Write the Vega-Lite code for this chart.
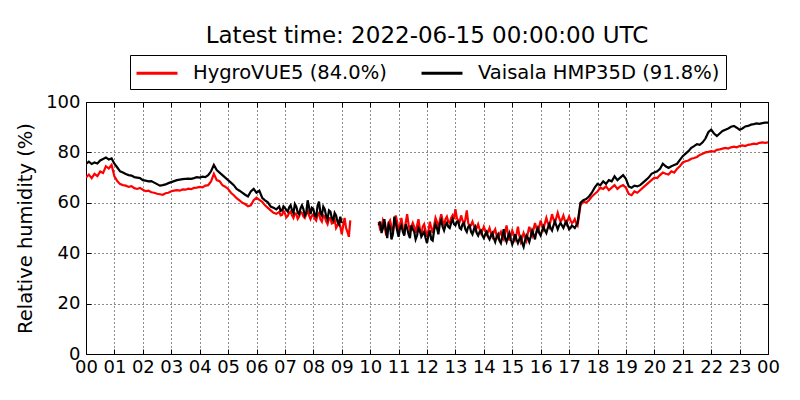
{
  "$schema": "https://vega.github.io/schema/vega-lite/v6.json",
  "width": 682,
  "height": 252,
  "autosize": {"type": "none"},
  "padding": {"left": 86, "top": 102, "right": 32, "bottom": 46},
  "title": {
    "text": "Latest time: 2022-06-15 00:00:00 UTC",
    "font": "DejaVu Sans",
    "fontSize": 23,
    "fontWeight": "normal",
    "color": "black",
    "anchor": "middle",
    "frame": "group",
    "offset": 7
  },
  "data": {
    "values": [
      {"h": 0.0, "r": 70.0, "b": 75.5, "seg": 1},
      {"h": 0.1, "r": 71.2, "b": 76.3, "seg": 1},
      {"h": 0.2, "r": 69.8, "b": 75.4, "seg": 1},
      {"h": 0.3, "r": 71.5, "b": 76.0, "seg": 1},
      {"h": 0.4, "r": 70.6, "b": 75.6, "seg": 1},
      {"h": 0.5, "r": 72.4, "b": 76.8, "seg": 1},
      {"h": 0.6, "r": 71.8, "b": 77.4, "seg": 1},
      {"h": 0.7, "r": 74.5, "b": 78.0, "seg": 1},
      {"h": 0.8, "r": 73.6, "b": 77.2, "seg": 1},
      {"h": 0.9, "r": 75.0, "b": 77.6, "seg": 1},
      {"h": 1.0, "r": 70.5, "b": 75.5, "seg": 1},
      {"h": 1.1, "r": 68.6, "b": 74.0, "seg": 1},
      {"h": 1.2, "r": 67.4, "b": 72.5, "seg": 1},
      {"h": 1.3, "r": 67.0, "b": 72.0, "seg": 1},
      {"h": 1.4, "r": 66.8, "b": 71.4, "seg": 1},
      {"h": 1.5, "r": 66.3, "b": 71.0, "seg": 1},
      {"h": 1.6, "r": 66.6, "b": 70.8, "seg": 1},
      {"h": 1.7, "r": 65.8, "b": 70.2, "seg": 1},
      {"h": 1.8, "r": 65.5, "b": 70.0, "seg": 1},
      {"h": 1.9, "r": 65.9, "b": 69.8, "seg": 1},
      {"h": 2.0, "r": 65.2, "b": 69.0, "seg": 1},
      {"h": 2.1, "r": 64.6, "b": 68.8, "seg": 1},
      {"h": 2.2, "r": 64.8, "b": 68.5, "seg": 1},
      {"h": 2.3, "r": 64.2, "b": 68.6, "seg": 1},
      {"h": 2.4, "r": 64.0, "b": 68.0, "seg": 1},
      {"h": 2.5, "r": 63.6, "b": 67.4, "seg": 1},
      {"h": 2.6, "r": 63.4, "b": 66.8, "seg": 1},
      {"h": 2.7, "r": 63.2, "b": 67.0, "seg": 1},
      {"h": 2.8, "r": 63.8, "b": 67.3, "seg": 1},
      {"h": 2.9, "r": 64.0, "b": 67.8, "seg": 1},
      {"h": 3.0, "r": 64.6, "b": 68.2, "seg": 1},
      {"h": 3.1, "r": 64.8, "b": 68.6, "seg": 1},
      {"h": 3.2, "r": 65.0, "b": 69.0, "seg": 1},
      {"h": 3.3, "r": 64.8, "b": 69.2, "seg": 1},
      {"h": 3.4, "r": 65.3, "b": 69.4, "seg": 1},
      {"h": 3.5, "r": 65.2, "b": 69.5, "seg": 1},
      {"h": 3.6, "r": 65.6, "b": 69.6, "seg": 1},
      {"h": 3.7, "r": 65.4, "b": 69.5, "seg": 1},
      {"h": 3.8, "r": 65.9, "b": 69.8, "seg": 1},
      {"h": 3.9, "r": 66.0, "b": 70.2, "seg": 1},
      {"h": 4.0, "r": 66.3, "b": 70.0, "seg": 1},
      {"h": 4.1, "r": 66.1, "b": 70.4, "seg": 1},
      {"h": 4.2, "r": 66.8, "b": 70.2, "seg": 1},
      {"h": 4.3, "r": 67.0, "b": 71.0, "seg": 1},
      {"h": 4.4, "r": 68.5, "b": 72.5, "seg": 1},
      {"h": 4.5, "r": 71.5, "b": 75.0, "seg": 1},
      {"h": 4.6, "r": 69.0, "b": 73.0, "seg": 1},
      {"h": 4.7, "r": 68.6, "b": 72.0, "seg": 1},
      {"h": 4.8, "r": 67.0, "b": 71.0, "seg": 1},
      {"h": 4.9, "r": 66.4, "b": 70.0, "seg": 1},
      {"h": 5.0, "r": 65.5, "b": 69.0, "seg": 1},
      {"h": 5.1, "r": 64.0, "b": 68.0, "seg": 1},
      {"h": 5.2, "r": 63.0, "b": 67.0, "seg": 1},
      {"h": 5.3, "r": 61.8, "b": 65.5, "seg": 1},
      {"h": 5.4, "r": 61.0, "b": 64.8, "seg": 1},
      {"h": 5.5, "r": 60.0, "b": 64.0, "seg": 1},
      {"h": 5.6, "r": 59.5, "b": 63.2, "seg": 1},
      {"h": 5.7, "r": 58.6, "b": 62.5, "seg": 1},
      {"h": 5.8, "r": 59.0, "b": 64.5, "seg": 1},
      {"h": 5.9, "r": 61.0, "b": 65.5, "seg": 1},
      {"h": 6.0, "r": 62.0, "b": 64.0, "seg": 1},
      {"h": 6.1, "r": 61.2, "b": 64.8, "seg": 1},
      {"h": 6.2, "r": 60.4, "b": 62.0, "seg": 1},
      {"h": 6.3, "r": 59.0, "b": 61.0, "seg": 1},
      {"h": 6.4, "r": 58.0, "b": 60.2, "seg": 1},
      {"h": 6.5, "r": 57.0, "b": 58.5, "seg": 1},
      {"h": 6.6, "r": 56.0, "b": 58.0, "seg": 1},
      {"h": 6.7, "r": 55.6, "b": 57.4, "seg": 1},
      {"h": 6.8, "r": 56.4, "b": 58.5, "seg": 1},
      {"h": 6.85, "r": 55.0, "b": 56.8, "seg": 1},
      {"h": 6.9, "r": 55.2, "b": 57.0, "seg": 1},
      {"h": 6.95, "r": 56.8, "b": 58.6, "seg": 1},
      {"h": 7.0, "r": 55.8, "b": 58.0, "seg": 1},
      {"h": 7.05, "r": 54.2, "b": 57.2, "seg": 1},
      {"h": 7.1, "r": 54.8, "b": 56.5, "seg": 1},
      {"h": 7.15, "r": 56.0, "b": 58.2, "seg": 1},
      {"h": 7.2, "r": 56.5, "b": 59.0, "seg": 1},
      {"h": 7.25, "r": 55.0, "b": 57.0, "seg": 1},
      {"h": 7.3, "r": 54.0, "b": 56.0, "seg": 1},
      {"h": 7.35, "r": 55.8, "b": 59.5, "seg": 1},
      {"h": 7.4, "r": 55.6, "b": 58.5, "seg": 1},
      {"h": 7.45, "r": 53.6, "b": 56.2, "seg": 1},
      {"h": 7.5, "r": 54.5, "b": 55.5, "seg": 1},
      {"h": 7.55, "r": 56.4, "b": 57.8, "seg": 1},
      {"h": 7.6, "r": 56.0, "b": 59.0, "seg": 1},
      {"h": 7.65, "r": 54.6, "b": 57.5, "seg": 1},
      {"h": 7.7, "r": 54.0, "b": 55.0, "seg": 1},
      {"h": 7.75, "r": 55.4, "b": 56.0, "seg": 1},
      {"h": 7.8, "r": 57.0, "b": 61.0, "seg": 1},
      {"h": 7.85, "r": 55.0, "b": 58.2, "seg": 1},
      {"h": 7.9, "r": 53.5, "b": 55.5, "seg": 1},
      {"h": 7.95, "r": 54.8, "b": 58.0, "seg": 1},
      {"h": 8.0, "r": 55.5, "b": 57.5, "seg": 1},
      {"h": 8.05, "r": 53.8, "b": 55.0, "seg": 1},
      {"h": 8.1, "r": 53.0, "b": 54.5, "seg": 1},
      {"h": 8.15, "r": 55.2, "b": 58.8, "seg": 1},
      {"h": 8.2, "r": 56.0, "b": 60.5, "seg": 1},
      {"h": 8.25, "r": 53.4, "b": 56.0, "seg": 1},
      {"h": 8.3, "r": 52.5, "b": 55.0, "seg": 1},
      {"h": 8.35, "r": 55.0, "b": 58.5, "seg": 1},
      {"h": 8.4, "r": 54.5, "b": 57.5, "seg": 1},
      {"h": 8.45, "r": 52.6, "b": 54.8, "seg": 1},
      {"h": 8.5, "r": 51.5, "b": 53.5, "seg": 1},
      {"h": 8.55, "r": 53.8, "b": 57.0, "seg": 1},
      {"h": 8.6, "r": 54.0, "b": 56.5, "seg": 1},
      {"h": 8.65, "r": 51.8, "b": 54.0, "seg": 1},
      {"h": 8.7, "r": 52.0, "b": 53.0, "seg": 1},
      {"h": 8.75, "r": 53.5, "b": 56.0, "seg": 1},
      {"h": 8.8, "r": 50.0, "b": 55.0, "seg": 1},
      {"h": 8.85, "r": 51.0, "b": 52.5, "seg": 1},
      {"h": 8.9, "r": 52.5, "b": 51.5, "seg": 1},
      {"h": 8.95, "r": 50.5, "b": 54.5, "seg": 1},
      {"h": 9.0, "r": 47.5, "b": 52.0, "seg": 1},
      {"h": 9.05, "r": 51.0, "b": null, "seg": 1},
      {"h": 9.1, "r": 54.0, "b": null, "seg": 1},
      {"h": 9.15, "r": 50.0, "b": null, "seg": 1},
      {"h": 9.2, "r": 48.5, "b": null, "seg": 1},
      {"h": 9.25, "r": 46.5, "b": null, "seg": 1},
      {"h": 9.3, "r": 53.0, "b": null, "seg": 1},
      {"h": 10.3, "r": 52.5, "b": 51.0, "seg": 2},
      {"h": 10.35, "r": 49.5, "b": 52.5, "seg": 2},
      {"h": 10.4, "r": 50.0, "b": 48.0, "seg": 2},
      {"h": 10.45, "r": 53.0, "b": 50.0, "seg": 2},
      {"h": 10.5, "r": 51.5, "b": 53.5, "seg": 2},
      {"h": 10.55, "r": 48.0, "b": 49.5, "seg": 2},
      {"h": 10.6, "r": 49.0, "b": 46.0, "seg": 2},
      {"h": 10.65, "r": 52.0, "b": 51.5, "seg": 2},
      {"h": 10.7, "r": 53.0, "b": 50.5, "seg": 2},
      {"h": 10.75, "r": 50.5, "b": 45.5, "seg": 2},
      {"h": 10.8, "r": 48.5, "b": 47.5, "seg": 2},
      {"h": 10.85, "r": 51.5, "b": 54.5, "seg": 2},
      {"h": 10.9, "r": 55.0, "b": 52.0, "seg": 2},
      {"h": 10.95, "r": 52.5, "b": 49.0, "seg": 2},
      {"h": 11.0, "r": 49.5, "b": 46.5, "seg": 2},
      {"h": 11.05, "r": 51.0, "b": 50.0, "seg": 2},
      {"h": 11.1, "r": 54.0, "b": 51.0, "seg": 2},
      {"h": 11.15, "r": 50.0, "b": 48.5, "seg": 2},
      {"h": 11.2, "r": 47.5, "b": 47.0, "seg": 2},
      {"h": 11.25, "r": 52.0, "b": 51.5, "seg": 2},
      {"h": 11.3, "r": 55.5, "b": 50.0, "seg": 2},
      {"h": 11.35, "r": 51.5, "b": 47.5, "seg": 2},
      {"h": 11.4, "r": 49.0, "b": 46.0, "seg": 2},
      {"h": 11.45, "r": 50.5, "b": 51.0, "seg": 2},
      {"h": 11.5, "r": 52.0, "b": 49.5, "seg": 2},
      {"h": 11.55, "r": 50.5, "b": 48.5, "seg": 2},
      {"h": 11.6, "r": 48.0, "b": 45.5, "seg": 2},
      {"h": 11.65, "r": 51.0, "b": 47.0, "seg": 2},
      {"h": 11.7, "r": 53.5, "b": 50.0, "seg": 2},
      {"h": 11.75, "r": 49.5, "b": 49.0, "seg": 2},
      {"h": 11.8, "r": 47.0, "b": 46.5, "seg": 2},
      {"h": 11.85, "r": 50.5, "b": 47.5, "seg": 2},
      {"h": 11.9, "r": 51.5, "b": 48.5, "seg": 2},
      {"h": 11.95, "r": 49.0, "b": 46.0, "seg": 2},
      {"h": 12.0, "r": 46.5, "b": 44.0, "seg": 2},
      {"h": 12.05, "r": 48.5, "b": 47.0, "seg": 2},
      {"h": 12.1, "r": 52.5, "b": 49.0, "seg": 2},
      {"h": 12.15, "r": 50.0, "b": 45.5, "seg": 2},
      {"h": 12.2, "r": 48.0, "b": 45.0, "seg": 2},
      {"h": 12.25, "r": 51.0, "b": 49.0, "seg": 2},
      {"h": 12.3, "r": 54.0, "b": 51.5, "seg": 2},
      {"h": 12.35, "r": 52.5, "b": 50.0, "seg": 2},
      {"h": 12.4, "r": 50.0, "b": 47.5, "seg": 2},
      {"h": 12.45, "r": 53.0, "b": 51.5, "seg": 2},
      {"h": 12.5, "r": 55.5, "b": 53.0, "seg": 2},
      {"h": 12.55, "r": 53.0, "b": 50.5, "seg": 2},
      {"h": 12.6, "r": 51.0, "b": 49.0, "seg": 2},
      {"h": 12.65, "r": 53.5, "b": 51.0, "seg": 2},
      {"h": 12.7, "r": 54.5, "b": 52.0, "seg": 2},
      {"h": 12.75, "r": 52.5, "b": 50.5, "seg": 2},
      {"h": 12.8, "r": 52.0, "b": 50.0, "seg": 2},
      {"h": 12.85, "r": 54.0, "b": 52.0, "seg": 2},
      {"h": 12.9, "r": 55.0, "b": 53.5, "seg": 2},
      {"h": 12.95, "r": 53.5, "b": 51.5, "seg": 2},
      {"h": 13.0, "r": 57.5, "b": 51.0, "seg": 2},
      {"h": 13.05, "r": 54.0, "b": 52.5, "seg": 2},
      {"h": 13.1, "r": 53.0, "b": 52.5, "seg": 2},
      {"h": 13.15, "r": 52.5, "b": 50.0, "seg": 2},
      {"h": 13.2, "r": 55.0, "b": 49.5, "seg": 2},
      {"h": 13.25, "r": 53.0, "b": 51.5, "seg": 2},
      {"h": 13.3, "r": 51.5, "b": 52.0, "seg": 2},
      {"h": 13.35, "r": 53.5, "b": 49.5, "seg": 2},
      {"h": 13.4, "r": 57.0, "b": 48.5, "seg": 2},
      {"h": 13.45, "r": 52.0, "b": 50.5, "seg": 2},
      {"h": 13.5, "r": 50.5, "b": 51.0, "seg": 2},
      {"h": 13.55, "r": 51.0, "b": 48.5, "seg": 2},
      {"h": 13.6, "r": 52.5, "b": 47.5, "seg": 2},
      {"h": 13.65, "r": 51.0, "b": 49.5, "seg": 2},
      {"h": 13.7, "r": 49.0, "b": 50.5, "seg": 2},
      {"h": 13.75, "r": 50.0, "b": 48.0, "seg": 2},
      {"h": 13.8, "r": 51.5, "b": 47.0, "seg": 2},
      {"h": 13.85, "r": 49.5, "b": 48.5, "seg": 2},
      {"h": 13.9, "r": 48.0, "b": 49.0, "seg": 2},
      {"h": 13.95, "r": 49.0, "b": 47.0, "seg": 2},
      {"h": 14.0, "r": 50.5, "b": 46.0, "seg": 2},
      {"h": 14.05, "r": 49.0, "b": 47.5, "seg": 2},
      {"h": 14.1, "r": 47.5, "b": 48.5, "seg": 2},
      {"h": 14.15, "r": 48.5, "b": 46.5, "seg": 2},
      {"h": 14.2, "r": 50.0, "b": 45.5, "seg": 2},
      {"h": 14.25, "r": 48.0, "b": 47.0, "seg": 2},
      {"h": 14.3, "r": 46.5, "b": 48.0, "seg": 2},
      {"h": 14.35, "r": 48.5, "b": 46.0, "seg": 2},
      {"h": 14.4, "r": 49.5, "b": 44.5, "seg": 2},
      {"h": 14.45, "r": 47.0, "b": 46.5, "seg": 2},
      {"h": 14.5, "r": 46.0, "b": 47.5, "seg": 2},
      {"h": 14.55, "r": 47.5, "b": 45.0, "seg": 2},
      {"h": 14.6, "r": 48.5, "b": 44.0, "seg": 2},
      {"h": 14.65, "r": 46.5, "b": 46.5, "seg": 2},
      {"h": 14.7, "r": 45.5, "b": 49.5, "seg": 2},
      {"h": 14.75, "r": 48.5, "b": 46.0, "seg": 2},
      {"h": 14.8, "r": 51.0, "b": 44.5, "seg": 2},
      {"h": 14.85, "r": 47.5, "b": 46.5, "seg": 2},
      {"h": 14.9, "r": 45.0, "b": 48.0, "seg": 2},
      {"h": 14.95, "r": 47.0, "b": 45.5, "seg": 2},
      {"h": 15.0, "r": 49.0, "b": 43.5, "seg": 2},
      {"h": 15.05, "r": 47.5, "b": 45.0, "seg": 2},
      {"h": 15.1, "r": 45.5, "b": 47.5, "seg": 2},
      {"h": 15.15, "r": 47.5, "b": 45.5, "seg": 2},
      {"h": 15.2, "r": 50.5, "b": 44.0, "seg": 2},
      {"h": 15.25, "r": 47.0, "b": 45.5, "seg": 2},
      {"h": 15.3, "r": 44.5, "b": 46.5, "seg": 2},
      {"h": 15.35, "r": 46.0, "b": 44.0, "seg": 2},
      {"h": 15.4, "r": 48.0, "b": 42.5, "seg": 2},
      {"h": 15.45, "r": 46.5, "b": 45.0, "seg": 2},
      {"h": 15.5, "r": 45.0, "b": 47.0, "seg": 2},
      {"h": 15.55, "r": 48.0, "b": 46.0, "seg": 2},
      {"h": 15.6, "r": 50.5, "b": 44.5, "seg": 2},
      {"h": 15.65, "r": 48.5, "b": 46.5, "seg": 2},
      {"h": 15.7, "r": 47.0, "b": 49.0, "seg": 2},
      {"h": 15.75, "r": 49.5, "b": 47.5, "seg": 2},
      {"h": 15.8, "r": 52.0, "b": 45.5, "seg": 2},
      {"h": 15.85, "r": 50.0, "b": 48.5, "seg": 2},
      {"h": 15.9, "r": 48.0, "b": 50.0, "seg": 2},
      {"h": 15.95, "r": 50.5, "b": 48.0, "seg": 2},
      {"h": 16.0, "r": 53.0, "b": 47.0, "seg": 2},
      {"h": 16.05, "r": 51.0, "b": 49.0, "seg": 2},
      {"h": 16.1, "r": 49.5, "b": 50.5, "seg": 2},
      {"h": 16.15, "r": 52.0, "b": 49.0, "seg": 2},
      {"h": 16.2, "r": 54.0, "b": 48.0, "seg": 2},
      {"h": 16.25, "r": 52.0, "b": 50.0, "seg": 2},
      {"h": 16.3, "r": 50.5, "b": 51.5, "seg": 2},
      {"h": 16.35, "r": 53.0, "b": 50.0, "seg": 2},
      {"h": 16.4, "r": 55.5, "b": 49.0, "seg": 2},
      {"h": 16.45, "r": 53.5, "b": 51.0, "seg": 2},
      {"h": 16.5, "r": 52.0, "b": 52.5, "seg": 2},
      {"h": 16.55, "r": 54.0, "b": 51.0, "seg": 2},
      {"h": 16.6, "r": 56.0, "b": 49.5, "seg": 2},
      {"h": 16.65, "r": 54.0, "b": 51.0, "seg": 2},
      {"h": 16.7, "r": 52.5, "b": 52.0, "seg": 2},
      {"h": 16.75, "r": 53.5, "b": 51.0, "seg": 2},
      {"h": 16.8, "r": 55.0, "b": 50.0, "seg": 2},
      {"h": 16.85, "r": 53.0, "b": 51.5, "seg": 2},
      {"h": 16.9, "r": 51.5, "b": 52.5, "seg": 2},
      {"h": 16.95, "r": 53.0, "b": 51.0, "seg": 2},
      {"h": 17.0, "r": 54.5, "b": 49.5, "seg": 2},
      {"h": 17.05, "r": 53.0, "b": 50.0, "seg": 2},
      {"h": 17.1, "r": 52.0, "b": 51.0, "seg": 2},
      {"h": 17.15, "r": 52.5, "b": 50.5, "seg": 2},
      {"h": 17.2, "r": 53.5, "b": 50.0, "seg": 2},
      {"h": 17.25, "r": 52.0, "b": 51.0, "seg": 2},
      {"h": 17.3, "r": 51.0, "b": 52.0, "seg": 2},
      {"h": 17.35, "r": 55.0, "b": 56.0, "seg": 2},
      {"h": 17.4, "r": 59.0, "b": 60.0, "seg": 2},
      {"h": 17.5, "r": 60.5, "b": 61.0, "seg": 2},
      {"h": 17.6, "r": 60.0, "b": 61.5, "seg": 2},
      {"h": 17.7, "r": 61.0, "b": 62.5, "seg": 2},
      {"h": 17.8, "r": 62.5, "b": 64.0, "seg": 2},
      {"h": 17.9, "r": 63.5, "b": 66.0, "seg": 2},
      {"h": 18.0, "r": 64.5, "b": 67.5, "seg": 2},
      {"h": 18.1, "r": 66.0, "b": 67.0, "seg": 2},
      {"h": 18.2, "r": 65.5, "b": 68.5, "seg": 2},
      {"h": 18.3, "r": 66.5, "b": 67.5, "seg": 2},
      {"h": 18.4, "r": 65.0, "b": 69.0, "seg": 2},
      {"h": 18.5, "r": 66.0, "b": 68.5, "seg": 2},
      {"h": 18.6, "r": 67.0, "b": 70.5, "seg": 2},
      {"h": 18.7, "r": 65.5, "b": 69.0, "seg": 2},
      {"h": 18.8, "r": 66.5, "b": 70.0, "seg": 2},
      {"h": 18.9, "r": 67.0, "b": 71.0, "seg": 2},
      {"h": 19.0, "r": 66.0, "b": 69.5, "seg": 2},
      {"h": 19.1, "r": 63.5, "b": 66.5, "seg": 2},
      {"h": 19.2, "r": 63.0, "b": 66.0, "seg": 2},
      {"h": 19.3, "r": 64.5, "b": 66.8, "seg": 2},
      {"h": 19.4, "r": 64.0, "b": 66.5, "seg": 2},
      {"h": 19.5, "r": 65.0, "b": 67.0, "seg": 2},
      {"h": 19.6, "r": 66.0, "b": 68.0, "seg": 2},
      {"h": 19.7, "r": 67.0, "b": 69.0, "seg": 2},
      {"h": 19.8, "r": 68.0, "b": 70.0, "seg": 2},
      {"h": 19.9, "r": 69.0, "b": 71.5, "seg": 2},
      {"h": 20.0, "r": 70.0, "b": 72.0, "seg": 2},
      {"h": 20.1, "r": 69.8, "b": 72.5, "seg": 2},
      {"h": 20.2, "r": 71.0, "b": 73.5, "seg": 2},
      {"h": 20.3, "r": 72.0, "b": 75.5, "seg": 2},
      {"h": 20.4, "r": 71.5, "b": 74.5, "seg": 2},
      {"h": 20.5, "r": 71.2, "b": 73.8, "seg": 2},
      {"h": 20.6, "r": 72.5, "b": 74.5, "seg": 2},
      {"h": 20.7, "r": 72.0, "b": 75.0, "seg": 2},
      {"h": 20.8, "r": 73.5, "b": 75.5, "seg": 2},
      {"h": 20.9, "r": 74.5, "b": 77.0, "seg": 2},
      {"h": 21.0, "r": 76.0, "b": 78.5, "seg": 2},
      {"h": 21.1, "r": 76.5, "b": 79.5, "seg": 2},
      {"h": 21.2, "r": 76.8, "b": 80.5, "seg": 2},
      {"h": 21.3, "r": 77.5, "b": 81.8, "seg": 2},
      {"h": 21.4, "r": 77.8, "b": 82.5, "seg": 2},
      {"h": 21.5, "r": 78.2, "b": 83.3, "seg": 2},
      {"h": 21.6, "r": 79.0, "b": 83.0, "seg": 2},
      {"h": 21.7, "r": 79.5, "b": 84.0, "seg": 2},
      {"h": 21.8, "r": 80.0, "b": 85.5, "seg": 2},
      {"h": 21.9, "r": 80.2, "b": 88.0, "seg": 2},
      {"h": 22.0, "r": 80.5, "b": 89.0, "seg": 2},
      {"h": 22.1, "r": 80.3, "b": 87.5, "seg": 2},
      {"h": 22.2, "r": 81.0, "b": 86.5, "seg": 2},
      {"h": 22.3, "r": 81.2, "b": 87.5, "seg": 2},
      {"h": 22.4, "r": 81.5, "b": 88.5, "seg": 2},
      {"h": 22.5, "r": 81.8, "b": 89.0, "seg": 2},
      {"h": 22.6, "r": 81.5, "b": 89.5, "seg": 2},
      {"h": 22.7, "r": 82.0, "b": 90.2, "seg": 2},
      {"h": 22.8, "r": 82.3, "b": 90.5, "seg": 2},
      {"h": 22.9, "r": 82.0, "b": 89.8, "seg": 2},
      {"h": 23.0, "r": 82.5, "b": 89.0, "seg": 2},
      {"h": 23.1, "r": 82.8, "b": 89.5, "seg": 2},
      {"h": 23.2, "r": 82.5, "b": 90.3, "seg": 2},
      {"h": 23.3, "r": 83.0, "b": 90.5, "seg": 2},
      {"h": 23.4, "r": 83.2, "b": 91.0, "seg": 2},
      {"h": 23.5, "r": 83.5, "b": 91.2, "seg": 2},
      {"h": 23.6, "r": 83.3, "b": 91.5, "seg": 2},
      {"h": 23.7, "r": 83.8, "b": 91.3, "seg": 2},
      {"h": 23.8, "r": 84.0, "b": 91.6, "seg": 2},
      {"h": 23.9, "r": 83.8, "b": 91.8, "seg": 2},
      {"h": 24.0, "r": 84.0, "b": 91.8, "seg": 2}
    ]
  },
  "transform": [
    {"fold": ["r", "b"], "as": ["sensor", "rh"]},
    {"filter": "datum.rh != null"}
  ],
  "layer": [
    {
      "mark": {"type": "line", "strokeWidth": 2.2, "clip": true},
      "encoding": {
        "x": {
          "field": "h",
          "type": "quantitative",
          "scale": {"domain": [0, 24], "nice": false, "zero": false},
          "axis": {
            "orient": "bottom",
            "title": null,
            "values": [0, 1, 2, 3, 4, 5, 6, 7, 8, 9, 10, 11, 12, 13, 14, 15, 16, 17, 18, 19, 20, 21, 22, 23, 24],
            "labelExpr": "datum.value == 24 ? '00' : (datum.value < 10 ? '0' + datum.value : '' + datum.value)",
            "labelFlush": false,
            "labelOverlap": false,
            "labelFontSize": 18,
            "labelPadding": 9,
            "tickSize": -5,
            "domain": false,
            "grid": true
          }
        },
        "y": {
          "field": "rh",
          "type": "quantitative",
          "scale": {"domain": [0, 100], "nice": false},
          "axis": {
            "orient": "left",
            "title": "Relative humidity (%)",
            "values": [0, 20, 40, 60, 80, 100],
            "labelFontSize": 18,
            "labelPadding": 11,
            "labelFlush": false,
            "labelOverlap": false,
            "tickSize": -5,
            "domain": false,
            "grid": true,
            "titleFontSize": 19.5,
            "titleFontWeight": "normal",
            "titlePadding": 10
          }
        },
        "color": {
          "field": "sensor",
          "type": "nominal",
          "scale": {"domain": ["r", "b"], "range": ["#ff0000", "#000000"]},
          "legend": {
            "title": null,
            "orient": "none",
            "legendX": 44,
            "legendY": -47,
            "direction": "horizontal",
            "columns": 2,
            "labelExpr": "datum.label == 'r' ? 'HygroVUE5 (84.0%)' : 'Vaisala HMP35D (91.8%)'",
            "labelFontSize": 19.5,
            "labelLimit": 400,
            "symbolType": "M-2,0H2",
            "symbolSize": 420,
            "symbolStrokeWidth": 3,
            "symbolOffset": 9,
            "labelOffset": 24,
            "columnPadding": 28,
            "padding": 6,
            "strokeColor": "black",
            "fillColor": "white"
          }
        },
        "detail": {"field": "seg", "type": "nominal"}
      }
    },
    {
      "mark": {"type": "line", "strokeOpacity": 0},
      "encoding": {
        "x": {
          "field": "h",
          "type": "quantitative",
          "axis": {
            "orient": "top",
            "title": null,
            "values": [0, 1, 2, 3, 4, 5, 6, 7, 8, 9, 10, 11, 12, 13, 14, 15, 16, 17, 18, 19, 20, 21, 22, 23, 24],
            "labels": false,
            "tickSize": -5,
            "domain": false,
            "grid": false
          }
        },
        "y": {
          "field": "rh",
          "type": "quantitative",
          "axis": {
            "orient": "right",
            "title": null,
            "values": [0, 20, 40, 60, 80, 100],
            "labels": false,
            "tickSize": -5,
            "domain": false,
            "grid": false
          }
        }
      }
    }
  ],
  "resolve": {"axis": {"x": "independent", "y": "independent"}},
  "config": {
    "font": "DejaVu Sans",
    "view": {"stroke": "black", "strokeWidth": 1},
    "axis": {
      "labelColor": "black",
      "titleColor": "black",
      "tickColor": "black",
      "tickWidth": 1,
      "gridColor": "black",
      "gridDash": [1, 3],
      "gridWidth": 1,
      "gridOpacity": 0.9
    },
    "legend": {"labelColor": "black"}
  }
}
